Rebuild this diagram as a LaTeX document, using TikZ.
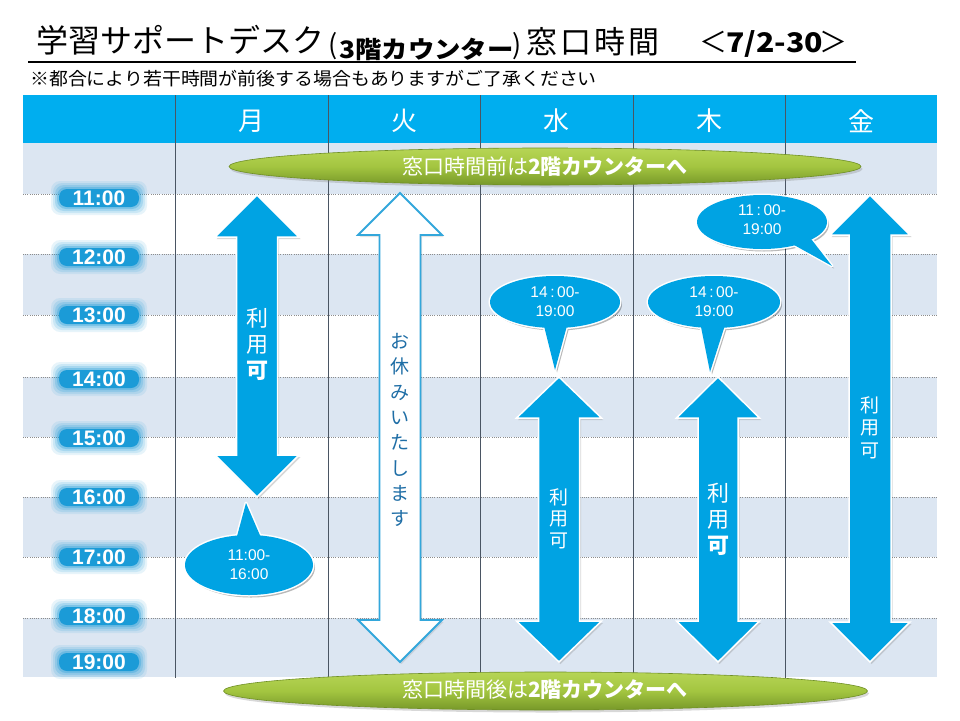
\documentclass[tikz,border=0pt]{standalone}
\usepackage{fontspec}
\setmainfont{Noto Sans CJK JP}
\newfontfamily\latin{Liberation Sans}
\usetikzlibrary{shadows}
\definecolor{hdr}{HTML}{00AEEF}
\definecolor{band}{HTML}{DCE6F2}
\definecolor{arr}{HTML}{00A3E3}
\definecolor{pill}{HTML}{1B9BD7}
\definecolor{divc}{HTML}{4A5563}
\definecolor{dotc}{HTML}{8C8C8C}
\definecolor{restc}{HTML}{1F6EA6}
\definecolor{restline}{HTML}{33A7DB}
\definecolor{gtop}{HTML}{B6D555}
\definecolor{gmid}{HTML}{A3C540}
\definecolor{gbot}{HTML}{779829}
\definecolor{gedge}{HTML}{6F8F25}
\newcommand\fs[1]{\fontsize{#1}{#1}\selectfont}
\newcommand\fsb[2]{\fontsize{#1}{#2}\selectfont}
\newcommand\dbarrow[7]{%
  \path[#1] (#2,#3) -- (#2+#5,#3+#7) -- (#2+#6,#3+#7) -- (#2+#6,#4-#7) -- (#2+#5,#4-#7) -- (#2,#4)
    -- (#2-#5,#4-#7) -- (#2-#6,#4-#7) -- (#2-#6,#3+#7) -- (#2-#5,#3+#7) -- cycle;}
% callout: cx, cy, rx, ry, base1, base2, tip
\newcommand\callout[7]{%
  \begin{scope}[transparency group, opacity=.28, shift={(2,2.5)}]
    \fill[black] (#1,#2) ellipse [x radius=#3, y radius=#4];
    \fill[black] (#5) -- (#7) -- (#6) -- cycle;
  \end{scope}
  \draw[white, line width=3] (#1,#2) ellipse [x radius=#3, y radius=#4];
  \draw[white, line width=3, line join=round] (#5) -- (#7) -- (#6) -- cycle;
  \fill[arr] (#1,#2) ellipse [x radius=#3, y radius=#4];
  \fill[arr] (#5) -- (#7) -- (#6) -- cycle;}
\newcommand\tlab[3]{%
  \foreach \d/\o in {8/.10,6/.14,4/.2,2/.3}{%
    \fill[pill, opacity=\o, rounded corners=9] (99-40-\d,#2-9-\d) rectangle (99+40+\d,#2+9+\d);}
  \node[timetxt] (#1) at (99,#2) {#3};}
\begin{document}
\begin{tikzpicture}[x=1pt,y=-1pt,
  timetxt/.style={fill=pill, rounded corners=8, minimum width=80, minimum height=18, inner sep=0,
    text=white, font=\latin\bfseries\fs{21}},
  dayname/.style={text=white, font=\fs{26}, inner sep=0},
  solidarrow/.style={fill=arr, draw=white, line width=1.5,
    drop shadow={shadow xshift=1.5pt, shadow yshift=-2pt, opacity=.3}},
  restarrow/.style={fill=white, draw=restline, line width=1.8,
    drop shadow={shadow xshift=1.5pt, shadow yshift=-2pt, opacity=.2}},
  armark/.style={text=white, align=center, inner sep=0},
  cotext/.style={text=white, align=center, inner sep=0},
  banner/.style={draw=gedge, line width=0.6, top color=gtop, bottom color=gbot, middle color=gmid,
    drop shadow={shadow xshift=1.5pt, shadow yshift=-2.5pt, opacity=.3}},
  bantext/.style={text=white, inner sep=0, font=\fs{21}},
  ttl/.style={anchor=base west, inner sep=0}]
\useasboundingbox (0,0) rectangle (960,720);
\fill[white] (0,0) rectangle (960,720);
% title
\node[ttl, font=\fs{32}] (t1) at (36,52) {学習サポートデスク};
\node[ttl, font=\fs{27}] (t2) at (328,54) {(};
\node[ttl, font=\bfseries\fs{24}] (t3) at (339,58) {\scalebox{1.1}[1]{3階カウンター}};
\node[ttl, font=\fs{27}] (t4) at (512,54) {)};
\node[ttl, font=\fs{31}] (t5) at (526,53) {窓\kern3pt口\kern3pt時\kern3pt間};
\node[ttl, font=\fs{28}] (t6) at (699,52) {＜};
\node[ttl, font=\bfseries\fs{27}] (t7) at (726,52) {\scalebox{1.12}[1]{7/2-30}};
\node[ttl, font=\fs{28}] (t8) at (819,52) {＞};
\coordinate (u1) at (28,62);
\coordinate (u2) at (856,62);
\draw[line width=1.6] (u1) -- (u2);
\node[anchor=west, inner sep=0, font=\fs{18}] (sub) at (30,79) {\scalebox{1.05}[1]{※都合により若干時間が前後する場合もありますがご了承ください}};
% table bands
\fill[band] (23,143) rectangle (937,194);
\fill[band] (23,254) rectangle (937,315);
\fill[band] (23,377) rectangle (937,437);
\fill[band] (23,497) rectangle (937,557);
\fill[band] (23,618) rectangle (937,677);
\foreach \yy in {194,254,315,377,437,497,557,618}
  \draw[dotc, line width=0.8, dash pattern=on 1pt off 1.2pt] (23,\yy) -- (937,\yy);
\fill[hdr] (23,95) rectangle (937,143);
\foreach \xx in {175,328,480,633,785}
  \draw[divc, line width=0.9] (\xx,95) -- (\xx,678);
\node[dayname] (dMon) at (251.5,121) {月};
\node[dayname] (dTue) at (404,121) {火};
\node[dayname] (dWed) at (556.5,121) {水};
\node[dayname] (dThu) at (709,121) {木};
\node[dayname] (dFri) at (861,121) {金};
% top banner
\path[banner] (545,166.5) ellipse [x radius=316, y radius=18.5];
\node[bantext] (bTop) at (545,167) {窓口時間前は{\bfseries 2階カウンターへ}};
% time labels
\tlab{h11}{198}{11:00}
\tlab{h12}{257}{12:00}
\tlab{h13}{315}{13:00}
\tlab{h14}{379}{14:00}
\tlab{h15}{438}{15:00}
\tlab{h16}{497}{16:00}
\tlab{h17}{557}{17:00}
\tlab{h18}{616}{18:00}
\tlab{h19}{662}{19:00}
% arrows
\dbarrow{solidarrow}{257}{195}{497}{42}{20.5}{42}
\dbarrow{restarrow}{400}{193}{662}{42}{20.5}{42}
\dbarrow{solidarrow}{559}{377}{662}{42.5}{20.5}{41}
\dbarrow{solidarrow}{718}{377}{662}{41.5}{20}{41}
\dbarrow{solidarrow}{870}{195}{662}{40}{21}{40}
\node[armark, font=\fsb{22}{26}] (mMon) at (257,344) {利\\用\\{\bfseries 可}};
\node[inner sep=0, align=center, text=restc, font=\fsb{19}{25.3}] (mTue) at (400,430) {お\\休\\み\\い\\た\\し\\ま\\す};
\node[armark, font=\fsb{19}{21.5}] (mWed) at (559,518.5) {利\\用\\可};
\node[armark, font=\fsb{22}{26}] (mThu) at (718,519) {利\\用\\{\bfseries 可}};
\node[armark, font=\fsb{19}{22.5}] (mFri) at (870,427.5) {利\\用\\可};
% callouts
\callout{249}{565}{64}{30}{236,540}{262,540}{246,503}
\node[cotext, font=\latin\fsb{15.5}{19}] (cMon) at (249,565) {11:00-\\16:00};
\callout{555}{302}{65}{26}{543,322}{568,322}{555,370}
\node[cotext, font=\latin\fsb{15.5}{19}] (cWed) at (555,302) {14\,:\,00-\\19:00};
\callout{714}{302}{66}{26}{700,322}{726,322}{710,372}
\node[cotext, font=\latin\fsb{15.5}{19}] (cThu) at (714,302) {14\,:\,00-\\19:00};
\callout{762}{222}{65}{27}{785,240}{808,235}{832,266}
\node[cotext, font=\latin\fsb{15.5}{19}] (cFri) at (762,220) {11\,:\,00-\\19:00};
% bottom banner
\path[banner] (545.5,691) ellipse [x radius=322, y radius=19];
\node[bantext] (bBot) at (545,690) {窓口時間後は{\bfseries 2階カウンターへ}};
\end{tikzpicture}
\end{document}
